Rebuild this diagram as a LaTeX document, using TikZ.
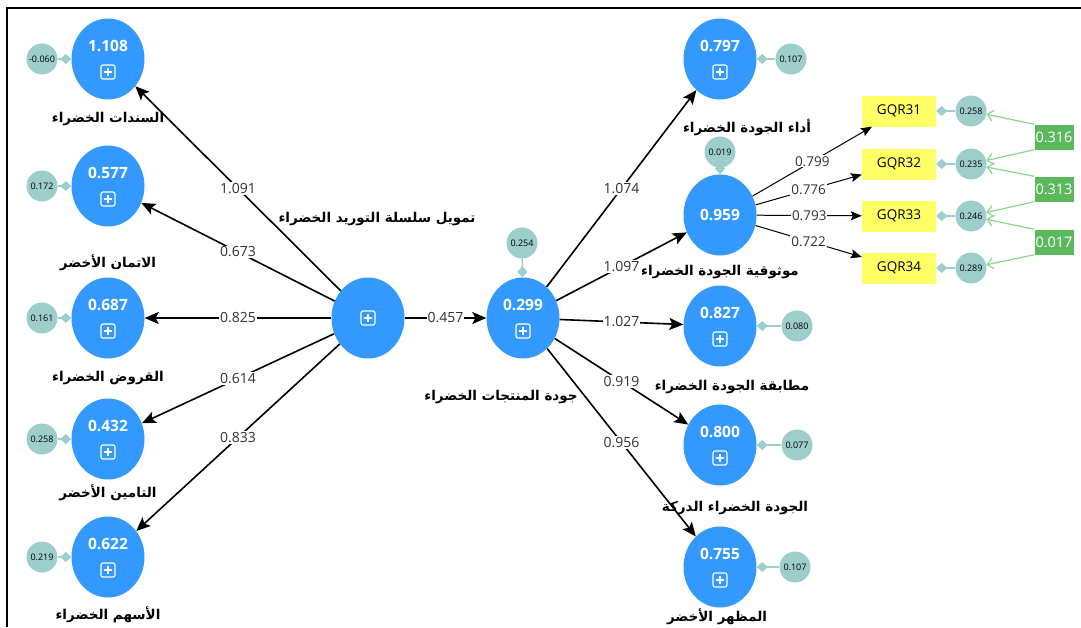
\documentclass[tikz,border=0pt]{standalone}
\usepackage{fontspec}
\setmainfont{Open Sans}
\newfontfamily\arfont[Script=Arabic]{DejaVu Sans}
\TeXXeTstate=1
\usetikzlibrary{shapes.geometric,arrows.meta,calc}
\definecolor{lvblue}{RGB}{51,153,255}
\definecolor{errteal}{RGB}{157,206,203}
\definecolor{indyellow}{RGB}{255,255,102}
\definecolor{gboxc}{RGB}{92,184,92}
\definecolor{glinec}{RGB}{140,214,140}
\definecolor{labgray}{RGB}{50,50,50}
\tikzset{
  lv/.style={ellipse, fill=lvblue, minimum width=73pt, minimum height=81pt, inner sep=0pt},
  num/.style={text=white, font=\fontsize{15.5}{16}\selectfont\bfseries, inner sep=0pt},
  err/.style={circle, fill=errteal, minimum size=31pt, inner sep=0pt, font=\fontsize{9}{9}\selectfont},
  errl/.style={draw=errteal, line width=1.5pt, -{Diamond[length=11pt,width=10pt]}},
  arlab/.style={font=\arfont\bfseries\fontsize{13.5}{15}\selectfont, inner sep=0pt},
  path/.style={draw, line width=1.6pt, -{Stealth[length=14pt,width=12pt,inset=3pt]}},
  ipath/.style={draw, line width=1pt, -{Stealth[length=11pt,width=9pt,inset=2pt]}},
  elab/.style={fill=white, inner sep=1pt, text=labgray, font=\fontsize{14}{15}\selectfont},
  ilab/.style={fill=white, inner sep=1pt, text=labgray, font=\fontsize{13.5}{14}\selectfont},
  ind/.style={rectangle, fill=indyellow, minimum width=74pt, minimum height=31pt, inner sep=0pt, font=\fontsize{13.5}{14}\selectfont},
  gbox/.style={rectangle, fill=gboxc, text=white, minimum width=37pt, minimum height=25pt, inner sep=1pt, font=\fontsize{14.5}{15}\selectfont},
  gl/.style={draw=glinec, line width=1.2pt, -{Straight Barb[length=6pt,width=11pt]}},
  plusbox/.pic={\draw[white,line width=1.1pt,rounded corners=2pt] (-7,-7) rectangle (7,7);
                \draw[white,line width=1.1pt] (-4.2,0)--(4.2,0) (0,-4.2)--(0,4.2);}
}
\begin{document}
\begin{tikzpicture}[x=1pt,y=-1pt]
\useasboundingbox (0,0) rectangle (1081,627);
\draw[line width=2pt] (7,627) -- (7,8) -- (1081,8);

% constructs
\node[lv] (l1) at (108,59) {};
\node[lv] (l2) at (108,186) {};
\node[lv] (l3) at (108,318) {};
\node[lv] (l4) at (108,439) {};
\node[lv] (l5) at (108,557) {};
\node[lv] (c) at (368,318) {};
\node[lv] (q) at (523,318) {};
\node[lv] (r1) at (720,59) {};
\node[lv] (r2) at (720,215) {};
\node[lv] (r3) at (720,326) {};
\node[lv] (r4) at (720,445) {};
\node[lv] (r5) at (720,567) {};

% numbers and plus boxes
\foreach \n/\v in {l1/1.108,l2/0.577,l3/0.687,l4/0.432,l5/0.622,q/0.299,r1/0.797,r3/0.827,r4/0.800,r5/0.755}{
  \node[num, yshift=13pt] at (\n) {\v};
  \pic at ([yshift=-13pt]\n.center) {plusbox};
}
\node[num] at (r2) {0.959};
\pic at (c.center) {plusbox};

% error terms
\node[err] (e1) at (42,59) {-0.060};
\node[err] (e2) at (42,186) {0.172};
\node[err] (e3) at (42,318) {0.161};
\node[err] (e4) at (42,439) {0.258};
\node[err] (e5) at (42,557) {0.219};
\node[err] (eq) at (522,243) {0.254};
\node[err] (er1) at (791,59) {0.107};
\node[err] (er2) at (720,152) {0.019};
\node[err] (er3) at (797,326) {0.080};
\node[err] (er4) at (797,445) {0.077};
\node[err] (er5) at (795,567) {0.107};
\foreach \e/\n in {e1/l1,e2/l2,e3/l3,e4/l4,e5/l5,eq/q,er1/r1,er2/r2,er3/r3,er4/r4,er5/r5}{
  \draw[errl] (\e) -- (\n);
}

% indicators
\node[ind] (g1) at (899,111) {GQR31};
\node[ind] (g2) at (899,164) {GQR32};
\node[ind] (g3) at (899,216) {GQR33};
\node[ind] (g4) at (899,268) {GQR34};
\node[err] (ie1) at (971,111) {0.258};
\node[err] (ie2) at (971,164) {0.235};
\node[err] (ie3) at (971,216) {0.246};
\node[err] (ie4) at (971,268) {0.289};
\foreach \e/\n in {ie1/g1,ie2/g2,ie3/g3,ie4/g4}{
  \draw[errl] (\e) -- (\n);
}

% correlated errors
\node[gbox] (k1) at (1054,137) {0.316};
\node[gbox] (k2) at (1054,189) {0.313};
\node[gbox] (k3) at (1054,242) {0.017};
\draw[gl] (k1.north west) -- (ie1);
\draw[gl] (k1.south west) -- (ie2);
\draw[gl] (k2.north west) -- (ie2);
\draw[gl] (k2.south west) -- (ie3);
\draw[gl] (k3.north west) -- (ie3);
\draw[gl] (k3.south west) -- (ie4);

% structural paths
\draw[path] (c) -- node[elab]{1.091} (l1);
\draw[path] (c) -- node[elab]{0.673} (l2);
\draw[path] (c) -- node[elab]{0.825} (l3);
\draw[path] (c) -- node[elab]{0.614} (l4);
\draw[path] (c) -- node[elab]{0.833} (l5);
\draw[path] (c) -- node[elab]{0.457} (q);
\draw[path] (q) -- node[elab]{1.074} (r1);
\draw[path] (q) -- node[elab]{1.097} (r2);
\draw[path] (q) -- node[elab]{1.027} (r3);
\draw[path] (q) -- node[elab]{0.919} (r4);
\draw[path] (q) -- node[elab]{0.956} (r5);

% loadings
\draw[ipath] (r2) -- node[ilab]{0.799} (g1);
\draw[ipath] (r2) -- node[ilab]{0.776} (g2);
\draw[ipath] (r2) -- node[ilab]{0.793} (g3);
\draw[ipath] (r2) -- node[ilab]{0.722} (g4);

% labels
\node[arlab] (t1) at (108,119) {\beginR السندات الخضراء\endR};
\node[arlab] (t2) at (108,263) {\beginR الاتمان الأخضر\endR};
\node[arlab] (t3) at (108,378) {\beginR القروض الخضراء\endR};
\node[arlab] (t4) at (108,493) {\beginR التامين الأخضر\endR};
\node[arlab] (t5) at (108,615) {\beginR الأسهم الخضراء\endR};
\node[arlab] (tc) at (377,219) {\beginR تمويل سلسلة التوريد الخضراء\endR};
\node[arlab] (tq) at (501,397) {\beginR جودة المنتجات الخضراء\endR};
\node[arlab] (tr1) at (747,127) {\beginR أداء الجودة الخضراء\endR};
\node[arlab] (tr2) at (720,272) {\beginR موثوقية الجودة الخضراء\endR};
\node[arlab] (tr3) at (732,387) {\beginR مطابقة الجودة الخضراء\endR};
\node[arlab] (tr4) at (735,508) {\beginR الجودة الخضراء الدركة\endR};
\node[arlab] (tr5) at (717,617) {\beginR المظهر الأخضر\endR};
\end{tikzpicture}
\end{document}
